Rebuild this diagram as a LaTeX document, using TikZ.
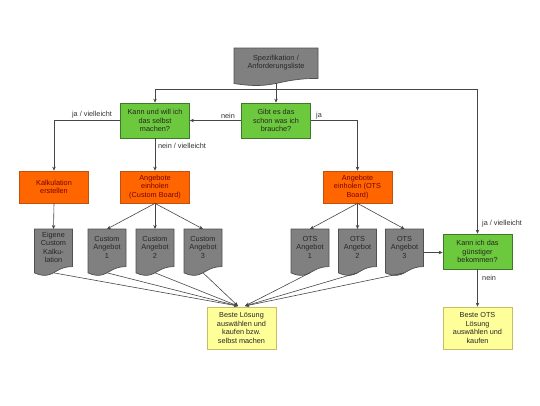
\documentclass[tikz,border=0pt]{standalone}
\usepackage{fontspec}
\setmainfont{Liberation Sans}
\usetikzlibrary{arrows.meta}

\definecolor{gfill}{RGB}{108,200,60}
\definecolor{gline}{RGB}{62,120,40}
\definecolor{ofill}{RGB}{255,102,0}
\definecolor{oline}{RGB}{190,80,20}
\definecolor{otext}{RGB}{120,0,0}
\definecolor{yfill}{RGB}{255,255,153}
\definecolor{yline}{RGB}{200,190,100}
\definecolor{dfill}{RGB}{128,128,128}
\definecolor{dline}{RGB}{80,80,80}
\definecolor{conn}{RGB}{70,70,70}

\newcommand{\docnode}[6]{%
  \filldraw[docbox] (#2-#4/2,#3) -- (#2+#4/2,#3) -- (#2+#4/2,#3+0.8*#5)
    .. controls (#2,#3+0.8*#5) and (#2,#3+1.107*#5) .. (#2-#4/2,#3+0.934*#5) -- cycle;
  \node[doctext,text width=#4-4] (#1) at (#2,#3+0.39*#5) {#6};
  \coordinate (#1-top) at (#2,#3);
  \coordinate (#1-bot) at (#2,#3+0.932*#5);
  \coordinate (#1-r) at (#2+#4/2,#3+0.5*#5);
}

\begin{document}
\begin{tikzpicture}[x=1pt,y=-1pt,
  font=\fontsize{7.3}{8.5}\selectfont,
  box/.style={draw,line width=0.7pt,align=center,inner sep=1pt,minimum width=69pt},
  greenbox/.style={box,fill=gfill,draw=gline,text=black!85,minimum height=35pt},
  orangebox/.style={box,fill=ofill,draw=oline,text=otext,minimum height=32pt},
  yellowbox/.style={box,fill=yfill,draw=yline,text=black!85,minimum height=42pt},
  docbox/.style={fill=dfill,draw=dline,line width=0.7pt},
  doctext/.style={align=center,inner sep=0pt,text=black!85},
  lbl/.style={text=black!80,inner sep=1pt},
  arr/.style={draw=conn,line width=0.6pt,-{Stealth[length=4pt,width=3.5pt]}},
  ln/.style={draw=conn,line width=0.6pt}]
\useasboundingbox (0,0) rectangle (540,405);

\docnode{spec}{276}{48}{84}{38}{Spezifikation /\\Anforderungsliste}

\node[greenbox] (kannwill) at (155,120.5) {Kann und will ich\\das selbst\\machen?};
\node[greenbox] (gibt) at (276,120.5) {Gibt es das\\schon was ich\\brauche?};
\node[greenbox] (kanngue) at (477.5,251.5) {Kann ich das\\günstiger\\bekommen?};

\node[orangebox] (kalk) at (54,187) {Kalkulation\\erstellen};
\node[orangebox] (angcust) at (155,187) {Angebote\\einholen\\(Custom Board)};
\node[orangebox] (angots) at (357.5,187) {Angebote\\einholen (OTS\\Board)};

\docnode{eigene}{53.5}{229}{38}{47}{Eigene\\Custom\\Kalku-\\lation}
\docnode{c1}{107}{229}{38}{47}{Custom\\Angebot\\1}
\docnode{c2}{155}{229}{38}{47}{Custom\\Angebot\\2}
\docnode{c3}{203}{229}{38}{47}{Custom\\Angebot\\3}
\docnode{o1}{310}{229}{38}{47}{OTS\\Angebot\\1}
\docnode{o2}{357.5}{229}{38}{47}{OTS\\Angebot\\2}
\docnode{o3}{404.5}{229}{38}{47}{OTS\\Angebot\\3}

\node[yellowbox] (bestel) at (241.5,328) {Beste Lösung\\auswählen und\\kaufen bzw.\\selbst machen};
\node[yellowbox] (besteots) at (477.5,328) {Beste OTS\\Lösung\\auswählen und\\kaufen};

\coordinate (jl) at (155,89);
\coordinate (jr) at (477.5,89);
\coordinate (inl) at (238,306);
\coordinate (inr) at (245,306);

\draw[arr] (spec-bot) -- (gibt.north);
\draw[ln] (jl) -- (jr);
\draw[arr] (jl) -- (kannwill.north);
\draw[arr] (jr) -- (kanngue.north);

\draw[arr] (gibt.west) -- (kannwill.east);
\draw[arr] (gibt.east) -| (angots.north);
\draw[arr] (kannwill.west) -| (kalk.north);
\draw[arr] (kannwill.south) -- (angcust.north);

\draw[arr] (kalk.south) -- (eigene-top);
\foreach \d in {c1,c2,c3} \draw[arr] (angcust.south) -- (\d-top);
\foreach \d in {o1,o2,o3} \draw[arr] (angots.south) -- (\d-top);

\foreach \d in {eigene,c1,c2,c3} \draw[arr] (\d-bot) -- (inl);
\foreach \d in {o1,o2,o3} \draw[arr] (\d-bot) -- (inr);

\draw[arr] (o3-r) -- (o3-r -| kanngue.west);
\draw[arr] (kanngue.south) -- (besteots.north);

\node[lbl] (ljaa) at (92,115) {ja / vielleicht};
\node[lbl] (lneina) at (182,146) {nein / vielleicht};
\node[lbl] (lneinb) at (228,116) {nein};
\node[lbl,anchor=west] (ljab) at (315,116) {ja};
\node[lbl,anchor=west] (ljac) at (481,224) {ja / vielleicht};
\node[lbl,anchor=west] (lneinc) at (481,278) {nein};
\end{tikzpicture}
\end{document}
